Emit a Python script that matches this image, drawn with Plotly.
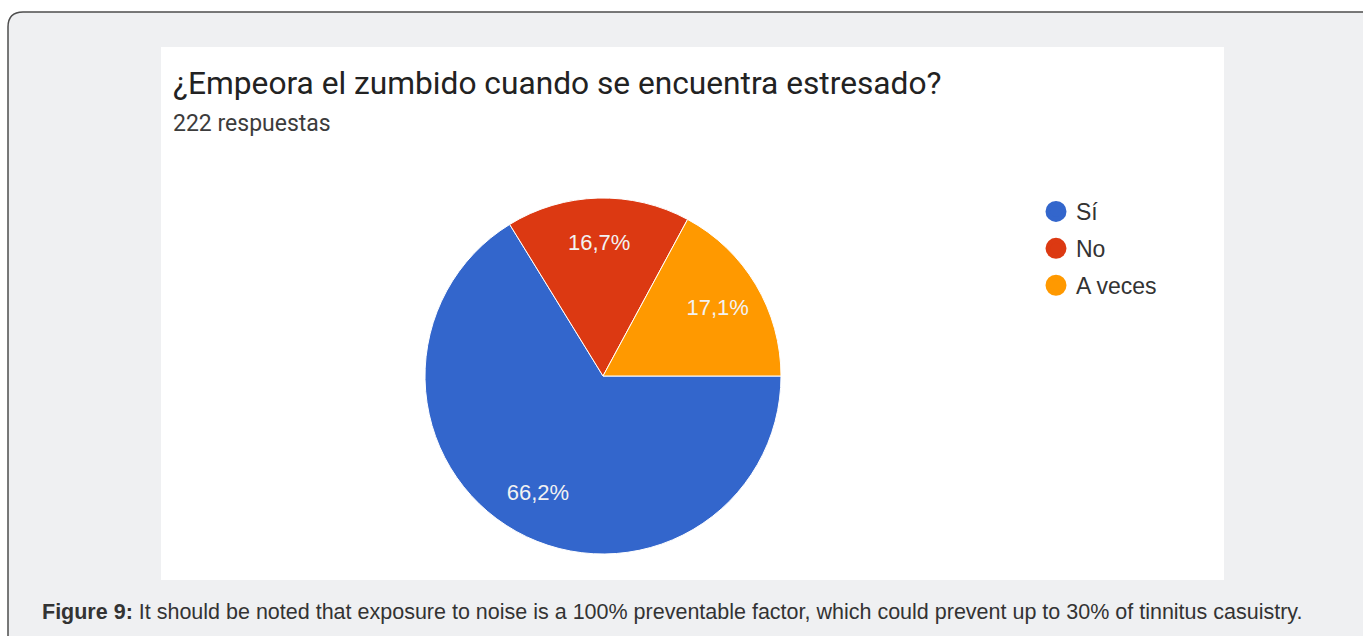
import plotly.graph_objects as go

# ---- data ----
categories = ["Sí", "No", "A veces"]
counts = [147, 37, 38]          # 222 respuestas
colors = ["#3366cc", "#dc3912", "#ff9900"]
title_text = "¿Empeora el zumbido cuando se encuentra estresado?"
subtitle_text = "222 respuestas"
caption_bold = "Figure 9:"
caption_text = (" It should be noted that exposure to noise is a 100% preventable factor, "
                "which could prevent up to 30% of tinnitus casuistry.")

W, H = 1363, 636
def px(x):
    return x / W
def py(y):
    return 1 - y / H

total = sum(counts)
pct_labels = [f"{100 * c / total:.1f}%".replace(".", ",") for c in counts]
pie_domain = dict(x=[px(425), px(781)], y=[py(554), py(198)])

fig = go.Figure()

# coloured slices
fig.add_trace(go.Pie(
    labels=categories, values=counts,
    textinfo="none",
    marker=dict(colors=colors, line=dict(color="#ffffff", width=1)),
    sort=False, direction="clockwise", rotation=90,
    showlegend=False, hoverinfo="skip",
    domain=pie_domain,
))

# transparent ring carrying the percentage labels (places them further out)
fig.add_trace(go.Pie(
    labels=categories, values=counts,
    text=pct_labels, textinfo="text",
    textposition="inside", insidetextorientation="horizontal",
    textfont=dict(family="Liberation Sans, Arial", size=22, color="#f2f2f2"),
    marker=dict(colors=["rgba(0,0,0,0)"] * 3, line=dict(width=0)),
    hole=0.5,
    sort=False, direction="clockwise", rotation=90,
    showlegend=False, hoverinfo="skip",
    domain=pie_domain,
))

# legend entries as circles
for i, (cat, col) in enumerate(zip(categories, colors)):
    fig.add_trace(go.Scatter(
        x=[None], y=[None], mode="markers", name=cat,
        legendgroup=f"g{i}",
        marker=dict(color=col, size=16, symbol="circle", line=dict(color=col, width=5)),
        hoverinfo="skip",
    ))

shapes = [
    dict(type="path", xref="paper", yref="paper", layer="below",
         path=(f"M {px(8)},{py(700)} L {px(8)},{py(27)} "
               f"Q {px(8)},{py(12)} {px(23)},{py(12)} "
               f"L {px(1400)},{py(12)} L {px(1400)},{py(700)} Z"),
         fillcolor="#eff0f2", line=dict(color="#4d4d4d", width=1.5)),
    dict(type="rect", xref="paper", yref="paper", layer="below",
         x0=px(161), x1=px(1224), y0=py(580), y1=py(47),
         fillcolor="#ffffff", line=dict(width=0)),
]

annotations = [
    dict(text=title_text, x=px(171), y=py(83), xref="paper", yref="paper",
         xanchor="left", yanchor="middle", showarrow=False,
         font=dict(family="Roboto", size=31.7, color="#222222")),
    dict(text=subtitle_text, x=px(171), y=py(123), xref="paper", yref="paper",
         xanchor="left", yanchor="middle", showarrow=False,
         font=dict(family="Roboto", size=23, color="#3c3c3c")),
    dict(text=f"<b>{caption_bold}</b>{caption_text}", x=px(40), y=py(612),
         xref="paper", yref="paper", xanchor="left", yanchor="middle", showarrow=False,
         font=dict(family="Liberation Sans, Arial", size=21.5, color="#333333")),
]

fig.update_layout(
    width=W, height=H,
    margin=dict(l=0, r=0, t=0, b=0),
    paper_bgcolor="#ffffff",
    plot_bgcolor="rgba(0,0,0,0)",
    xaxis=dict(visible=False, domain=[0, 0.01]),
    yaxis=dict(visible=False, domain=[0, 0.01]),
    shapes=shapes,
    annotations=annotations,
    showlegend=True,
    legend=dict(x=px(1036), y=py(190), xanchor="left", yanchor="top",
                bgcolor="rgba(0,0,0,0)", tracegroupgap=4,
                font=dict(family="Liberation Sans, Arial", size=23, color="#333333")),
)

fig.write_html("out.html")
